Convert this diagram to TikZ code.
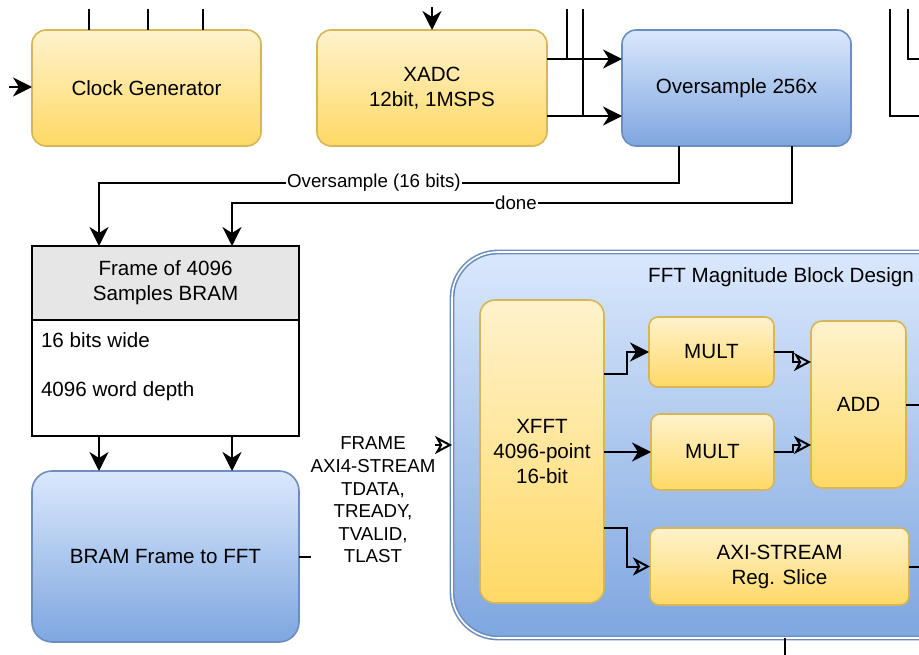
\documentclass[tikz,border=0pt]{standalone}
\usepackage{fontspec}
\setmainfont{Liberation Sans}
\usetikzlibrary{arrows.meta,calc}
\definecolor{ylTop}{HTML}{FFF2CC}
\definecolor{ylBot}{HTML}{FFD966}
\definecolor{ylLine}{HTML}{D6B656}
\definecolor{blTop}{HTML}{DAE8FC}
\definecolor{blBot}{HTML}{7EA6E0}
\definecolor{blLine}{HTML}{6C8EBF}
\definecolor{hdGray}{HTML}{E6E6E6}

\begin{document}
\begin{tikzpicture}[x=1pt,y=-1pt,
  every node/.style={inner sep=0pt, outer sep=0pt, font=\fontsize{20.6}{25}\selectfont, align=center},
  ybox/.style={draw=ylLine, line width=1.6pt, top color=ylTop, bottom color=ylBot},
  bbox/.style={draw=blLine, line width=1.6pt, top color=blTop, bottom color=blBot},
  wire/.style={line width=2pt, draw=black},
  arr/.style={wire, -{Stealth[length=19pt, width=19pt, inset=6pt]}},
  oarr/.style={wire, -{Stealth[open, length=17pt, width=18pt, inset=5pt]}},
  lbl/.style={fill=white, inner xsep=1pt, font=\fontsize{18.7}{22.6}\selectfont},
]
\useasboundingbox (0,0) rectangle (919,655);
\clip (0,0) rectangle (919,655);

% ---- top row ----
\node[ybox, rounded corners=14pt, minimum width=229pt, minimum height=116pt] (clk) at (146.5,88) {Clock Generator};
\node[ybox, rounded corners=14pt, minimum width=230pt, minimum height=116pt] (xadc) at (432,88) {XADC\\12bit, 1MSPS};
\node[bbox, rounded corners=14pt, minimum width=229pt, minimum height=116pt] (ovs) at (736.5,88) {Oversample 256x};

% ---- frame buffer ----
\node[draw=black, line width=2pt, fill=white, minimum width=267pt, minimum height=190pt] (frame) at (165.5,341) {};
\node[draw=black, line width=2pt, fill=hdGray, minimum width=267pt, minimum height=74pt, anchor=north] (framehead) at (frame.north) {Frame of 4096\\Samples BRAM};
\node[anchor=west] (fwide) at (41,340) {16 bits wide};
\node[anchor=west] (fdepth) at (41,391) {4096 word depth};

\node[bbox, rounded corners=20pt, minimum width=267pt, minimum height=171pt] (bram) at (165.5,556.5) {BRAM Frame to FFT};

% ---- FFT magnitude block design ----
\node[bbox, line width=1.6pt, double=white, double distance=1.6pt, rounded corners=46pt,
      minimum width=560pt, minimum height=386pt, anchor=west] (fftc) at (452,445) {};
\node (ffttitle) at (781,277) {FFT Magnitude Block Design};

\node[ybox, rounded corners=15pt, minimum width=124pt, minimum height=303pt] (xfft) at (542,451.5) {XFFT\\4096-point\\16-bit};
\node[ybox, rounded corners=9pt, minimum width=125pt, minimum height=70pt] (mult1) at (711.5,352) {MULT};
\node[ybox, rounded corners=9pt, minimum width=123pt, minimum height=76pt] (mult2) at (712.5,452) {MULT};
\node[ybox, rounded corners=11pt, minimum width=95pt, minimum height=167pt] (add) at (858.5,404.5) {ADD};
\node[ybox, rounded corners=9pt, minimum width=259pt, minimum height=77pt] (axi) at (779.5,566.5) {AXI-STREAM\\Reg. Slice};

% ---- free ends of wires leaving the picture ----
\coordinate (clkin) at (9,87);
\coordinate (xadcin) at (432,7);
\coordinate (c1) at (89,9);
\coordinate (c2) at (148,9);
\coordinate (c3) at (203,9);
\coordinate (t1) at (567,9);
\coordinate (t2) at (583,9);
\coordinate (r1) at (890,9);
\coordinate (r2) at (908,9);
\coordinate (r1e) at (925,116);
\coordinate (r2e) at (925,59);
\coordinate (addout) at (925,404.5);
\coordinate (axiout) at (925,566.5);
\coordinate (busdown) at (785,660);

% ---- wires ----
\draw[arr] (clkin) -- (clkin -| clk.west);
\draw[wire] (c1) -- (c1 |- clk.north);
\draw[wire] (c2) -- (c2 |- clk.north);
\draw[wire] (c3) -- (c3 |- clk.north);
\draw[arr] (xadcin) -- (xadc.north);
\draw[arr] ($(xadc.east)+(0,-29)$) -- ($(ovs.west)+(0,-29)$);
\draw[arr] ($(xadc.east)+(0,28)$) -- ($(ovs.west)+(0,28)$);
\draw[wire] (t1) -- ++(0,50);
\draw[wire] (t2) -- ++(0,107);
\draw[wire] (r1) |- (r1e);
\draw[wire] (r2) |- (r2e);

\draw[arr] ($(ovs.south west)+(57,0)$) -- ++(0,37)
  -- node[lbl, pos=0.526] (lblovs) {Oversample (16 bits)} ($(frame.north west)+(67,-63)$)
  -- ($(frame.north west)+(67,0)$);
\draw[arr] ($(ovs.south west)+(170,0)$) -- ++(0,57)
  -- node[lbl, pos=0.493] (lbldone) {done} ($(frame.north west)+(200,-43)$)
  -- ($(frame.north west)+(200,0)$);

\draw[arr] ($(frame.south west)+(67,0)$) -- ($(bram.north west)+(67,0)$);
\draw[arr] ($(frame.south west)+(200,0)$) -- ($(bram.north west)+(200,0)$);

\draw[oarr] (bram.east) -- (373,556.5) -- (373,445) -- (fftc.west);
\node[lbl, inner xsep=0pt] (framelbl) at (373,500) {FRAME\\AXI4-STREAM\\TDATA,\\TREADY,\\TVALID,\\TLAST};

\draw[arr] ($(xfft.north east)+(0,74)$) -- ++(23,0) |- (mult1.west);
\draw[arr] (xfft.east |- mult2.west) -- (mult2.west);
\draw[oarr] ($(xfft.north east)+(0,228)$) -- ++(23,0) |- (axi.west);
\draw[oarr] (mult1.east) -- ++(19,0) |- ($(add.west)+(0,-42.5)$);
\draw[oarr] (mult2.east) -- ++(19,0) |- ($(add.west)+(0,40.5)$);
\draw[wire] (add.east) -- (addout);
\draw[wire] (axi.east) -- (axiout);
\draw[wire] (fftc.south -| busdown) -- (busdown);
\end{tikzpicture}
\end{document}
